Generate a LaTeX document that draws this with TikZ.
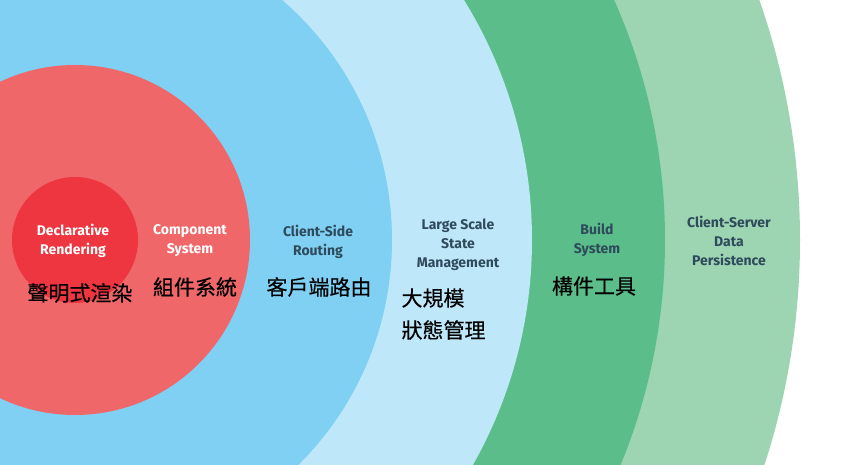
\documentclass[tikz,border=0pt]{standalone}
\usepackage{fontspec}
\setsansfont{Fira Sans}
\newfontfamily\cjk[FakeBold=0.4]{Noto Sans CJK TC}
\usepackage{tikz}
\usetikzlibrary{positioning}

\definecolor{declred}{HTML}{EE3641}
\definecolor{compred}{HTML}{F06769}
\definecolor{routeblue}{HTML}{7FD0F3}
\definecolor{stateblue}{HTML}{BEE7FA}
\definecolor{buildgreen}{HTML}{5BBE8A}
\definecolor{datagreen}{HTML}{9DD4B2}
\definecolor{labelgray}{HTML}{2E4A5B}

\begin{document}
\begin{tikzpicture}[
    x=1pt, y=1pt,
    en/.style={align=center, text=labelgray, font=\sffamily\bfseries\fontsize{14}{19}\selectfont},
    enw/.style={en, text=white},
    zh/.style={text=black, font=\cjk\fontsize{21}{24}\selectfont}
]
    \useasboundingbox (0,0) rectangle (844,465);
    \clip (0,0) rectangle (844,465);
    \fill[white] (0,0) rectangle (844,465);

    % rings, outermost first
    \coordinate (c) at (75,225);
    \foreach \r/\col in {725/datagreen, 590/buildgreen, 457/stateblue, 317/routeblue, 175/compred, 63/declred}
        \fill[\col] (c) circle [radius=\r pt];

    \node[enw] (decl) at (73,224) {Declarative\\Rendering};
    \node[enw] (comp) at (190,224) {Component\\System};
    \node[en] (route) at (318,223) {Client-Side\\Routing};
    \node[en] (state) at (458,220) {Large Scale\\State\\Management};
    \node[en] (build) at (597,225) {Build\\System};
    \node[en] (data) at (729,224) {Client-Server\\Data\\Persistence};

    \node[zh] (decl-zh) at (80,172) {聲明式渲染};
    \node[zh] (comp-zh) at (195,178) {組件系統};
    \node[zh] (route-zh) at (319,178) {客戶端路由};
    \node[zh, anchor=west] (state-zh1) at (398,167) {大規模};
    \node[zh, anchor=west] (state-zh2) at (398,135) {狀態管理};
    \node[zh] (build-zh) at (594,179) {構件工具};
\end{tikzpicture}
\end{document}
